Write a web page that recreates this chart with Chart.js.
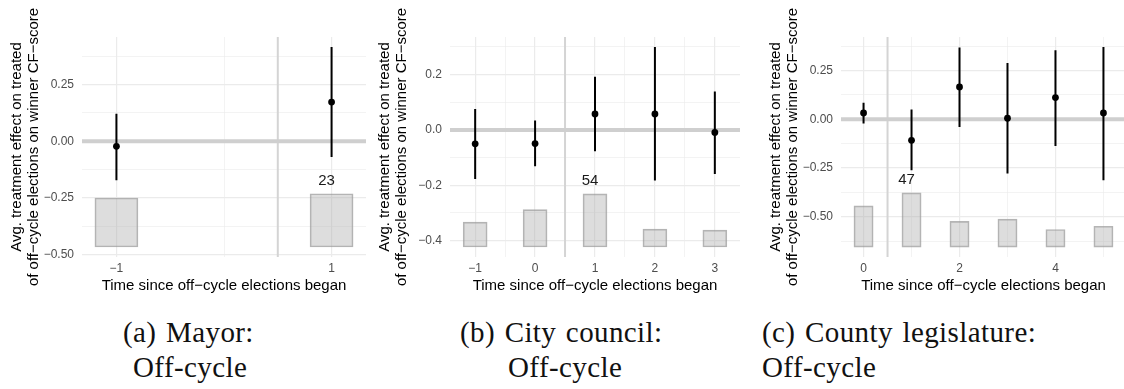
<!DOCTYPE html>
<html>
<head>
<meta charset="utf-8">
<script src="https://cdn.jsdelivr.net/npm/chart.js@4.4.1/dist/chart.umd.min.js"></script>
<style>
  html, body { margin: 0; padding: 0; background: #fff; }
  body { position: relative; width: 1124px; height: 389px; overflow: hidden; }
  .panel { position: absolute; top: 0; height: 300px; }
  .cap {
    position: absolute;
    font-family: "Liberation Serif", "Times New Roman", serif;
    font-size: 29px;
    line-height: 29px;
    letter-spacing: 0.4px;
    word-spacing: 2px;
    color: #111;
    white-space: nowrap;
  }
</style>
</head>
<body>
<div class="panel" style="left:8px;width:362px"><canvas id="mayor" width="362" height="300"></canvas></div>
<div class="panel" style="left:376px;width:368px"><canvas id="council" width="368" height="300"></canvas></div>
<div class="panel" style="left:767px;width:363px"><canvas id="county" width="363" height="300"></canvas></div>

<div class="cap" style="left:123px;top:318px">(a) Mayor:</div>
<div class="cap" style="left:133px;top:353px">Off-cycle</div>
<div class="cap" style="left:460px;top:318px">(b) City council:</div>
<div class="cap" style="left:508px;top:353px">Off-cycle</div>
<div class="cap" style="left:762px;top:318px">(c) County legislature:</div>
<div class="cap" style="left:762px;top:353px">Off-cycle</div>

<script>
// (a) Mayor
const mayorX = [-1, 1];
const mayorEst = [-0.022, 0.173];
const mayorLow = [-0.172, -0.069];
const mayorHigh = [0.122, 0.416];
const mayorBarBase = -0.466;
const mayorBarTop = [-0.250, -0.231];
const mayorBarLabels = ["", "23"];
const mayorXTicks = [-1, 1];
const mayorXLabels = ["\u22121", "1"];
const mayorXMinor = [0];
const mayorYTicks = [-0.5, -0.25, 0, 0.25];
const mayorYLabels = ["\u22120.50", "\u22120.25", "0.00", "0.25"];
const mayorYMinor = [-0.375, -0.125, 0.125, 0.375];

// (b) City council
const councilX = [-1, 0, 1, 2, 3];
const councilEst = [-0.050, -0.049, 0.058, 0.058, -0.009];
const councilLow = [-0.177, -0.131, -0.077, -0.183, -0.159];
const councilHigh = [0.076, 0.034, 0.192, 0.300, 0.139];
const councilBarBase = -0.423;
const councilBarTop = [-0.333, -0.288, -0.231, -0.358, -0.362];
const councilBarLabels = ["", "", "54", "", ""];
const councilXTicks = [-1, 0, 1, 2, 3];
const councilXLabels = ["\u22121", "0", "1", "2", "3"];
const councilXMinor = [-0.5, 0.5, 1.5, 2.5];
const councilYTicks = [-0.4, -0.2, 0, 0.2];
const councilYLabels = ["\u22120.4", "\u22120.2", "0.0", "0.2"];
const councilYMinor = [-0.3, -0.1, 0.1, 0.3];

// (c) County legislature
const countyX = [0, 1, 2, 3, 4, 5];
const countyEst = [0.032, -0.108, 0.166, 0.005, 0.111, 0.032];
const countyLow = [-0.022, -0.262, -0.040, -0.279, -0.137, -0.313];
const countyHigh = [0.084, 0.050, 0.368, 0.289, 0.354, 0.371];
const countyBarBase = -0.656;
const countyBarTop = [-0.445, -0.378, -0.524, -0.513, -0.566, -0.549];
const countyBarLabels = ["", "47", "", "", "", ""];
const countyXTicks = [0, 2, 4];
const countyXLabels = ["0", "2", "4"];
const countyXMinor = [1, 3, 5];
const countyYTicks = [-0.5, -0.25, 0, 0.25];
const countyYLabels = ["\u22120.50", "\u22120.25", "0.00", "0.25"];
const countyYMinor = [-0.625, -0.375, -0.125, 0.125, 0.375];

const yTitle = ["Avg. treatment effect on treated", "of off\u2212cycle elections on winner CF\u2212score"];
const xTitle = "Time since off\u2212cycle elections began";
const treatStart = 0.5; // vertical marker between pre and post periods

Chart.defaults.font.family = "'Liberation Sans', Arial, Helvetica, sans-serif";

function buildPanel(id, p) {
  const bars = p.x.map((v, i) => ({ x: v, y: [p.barBase, p.barTop[i]] }));
  const points = p.x.map((v, i) => ({ x: v, y: p.est[i] }));
  const whiskers = [];
  p.x.forEach((v, i) => {
    whiskers.push({ x: v, y: p.low[i] }, { x: v, y: p.high[i] }, { x: v, y: null });
  });

  const isMinor = (list, v) => list.some((m) => Math.abs(m - v) < 1e-9);

  // count label above the tallest bar, nudged a bit left like the original
  const countLabels = {
    id: "countLabels",
    afterDatasetsDraw(chart) {
      const { ctx, scales: { x, y } } = chart;
      ctx.save();
      ctx.font = "15px 'Liberation Sans', Arial, sans-serif";
      ctx.fillStyle = "#1a1a1a";
      ctx.textAlign = "center";
      ctx.textBaseline = "middle";
      p.barLabels.forEach((txt, i) => {
        if (!txt) return;
        ctx.fillText(txt, x.getPixelForValue(p.x[i]) - 5, y.getPixelForValue(p.barTop[i]) - 13);
      });
      ctx.restore();
    },
  };

  return new Chart(document.getElementById(id), {
    type: "bar",
    data: {
      datasets: [
        {
          type: "line",
          data: [{ x: p.xMin, y: 0 }, { x: p.xMax, y: 0 }],
          borderColor: "#cfcfcf",
          borderWidth: 4,
          pointRadius: 0,
          order: 5,
        },
        {
          type: "line",
          data: [{ x: treatStart, y: p.yMin }, { x: treatStart, y: p.yMax }],
          borderColor: "#d4d4d4",
          borderWidth: 2,
          pointRadius: 0,
          order: 5,
        },
        {
          type: "bar",
          data: bars,
          backgroundColor: "rgba(175,175,175,0.42)",
          borderColor: "rgba(150,150,150,0.7)",
          borderWidth: 1,
          borderSkipped: false,
          // bars are 0.4 x-units wide
          barThickness: (ctx) => {
            const sx = ctx.chart.scales.x;
            return sx.getPixelForValue(0.4) - sx.getPixelForValue(0);
          },
          order: 4,
        },
        {
          type: "line",
          data: whiskers,
          borderColor: "#000",
          borderWidth: 2,
          pointRadius: 0,
          spanGaps: false,
          order: 2,
        },
        {
          type: "scatter",
          data: points,
          backgroundColor: "#000",
          borderWidth: 0,
          pointRadius: 3.4,
          order: 1,
        },
      ],
    },
    options: {
      responsive: false,
      animation: false,
      devicePixelRatio: 1,
      layout: { padding: { top: 37, left: 0, right: 0, bottom: 0 } },
      plugins: { legend: { display: false }, tooltip: { enabled: false } },
      scales: {
        x: {
          type: "linear",
          min: p.xMin,
          max: p.xMax,
          offset: false,
          afterFit: (s) => { s.height = 43; },
          afterBuildTicks: (s) => {
            s.ticks = [...p.xTicks, ...p.xMinor].sort((a, b) => a - b).map((v) => ({ value: v }));
          },
          ticks: {
            autoSkip: false,
            maxRotation: 0,
            padding: 4,
            color: "#4d4d4d",
            font: { size: 12 },
            callback: (v) => {
              const k = p.xTicks.indexOf(v);
              return k >= 0 ? p.xLabels[k] : "";
            },
          },
          grid: {
            offset: false,
            drawTicks: false,
            color: "#ebebeb",
            lineWidth: (ctx) => (ctx.tick && isMinor(p.xMinor, ctx.tick.value) ? 0.6 : 1.2),
          },
          border: { display: false },
          title: {
            display: true,
            text: xTitle,
            color: "#000",
            font: { size: 15, lineHeight: "17px" },
            padding: { top: 0, bottom: 5.5 },
          },
        },
        y: {
          type: "linear",
          min: p.yMin,
          max: p.yMax,
          afterFit: (s) => { s.width = 74; },
          afterBuildTicks: (s) => {
            s.ticks = [...p.yTicks, ...p.yMinor].sort((a, b) => a - b).map((v) => ({ value: v }));
          },
          ticks: {
            autoSkip: false,
            padding: 8,
            color: "#4d4d4d",
            font: { size: 12 },
            callback: (v) => {
              const k = p.yTicks.indexOf(v);
              return k >= 0 ? p.yLabels[k] : "";
            },
          },
          grid: {
            drawTicks: false,
            color: "#ebebeb",
            lineWidth: (ctx) => (ctx.tick && isMinor(p.yMinor, ctx.tick.value) ? 0.6 : 1.2),
          },
          border: { display: false },
          title: {
            display: true,
            text: yTitle,
            color: "#000",
            font: { size: 15, lineHeight: "17px" },
            padding: 0,
          },
        },
      },
    },
    plugins: [countLabels],
  });
}

buildPanel("mayor", {
  x: mayorX, est: mayorEst, low: mayorLow, high: mayorHigh,
  barBase: mayorBarBase, barTop: mayorBarTop, barLabels: mayorBarLabels,
  xTicks: mayorXTicks, xLabels: mayorXLabels, xMinor: mayorXMinor,
  yTicks: mayorYTicks, yLabels: mayorYLabels, yMinor: mayorYMinor,
  xMin: -1.32, xMax: 1.32, yMin: -0.51, yMax: 0.46,
});

buildPanel("council", {
  x: councilX, est: councilEst, low: councilLow, high: councilHigh,
  barBase: councilBarBase, barTop: councilBarTop, barLabels: councilBarLabels,
  xTicks: councilXTicks, xLabels: councilXLabels, xMinor: councilXMinor,
  yTicks: councilYTicks, yLabels: councilYLabels, yMinor: councilYMinor,
  xMin: -1.42, xMax: 3.42, yMin: -0.459, yMax: 0.336,
});

buildPanel("county", {
  x: countyX, est: countyEst, low: countyLow, high: countyHigh,
  barBase: countyBarBase, barTop: countyBarTop, barLabels: countyBarLabels,
  xTicks: countyXTicks, xLabels: countyXLabels, xMinor: countyXMinor,
  yTicks: countyYTicks, yLabels: countyYLabels, yMinor: countyYMinor,
  xMin: -0.47, xMax: 5.47, yMin: -0.707, yMax: 0.422,
});
</script>
</body>
</html>
